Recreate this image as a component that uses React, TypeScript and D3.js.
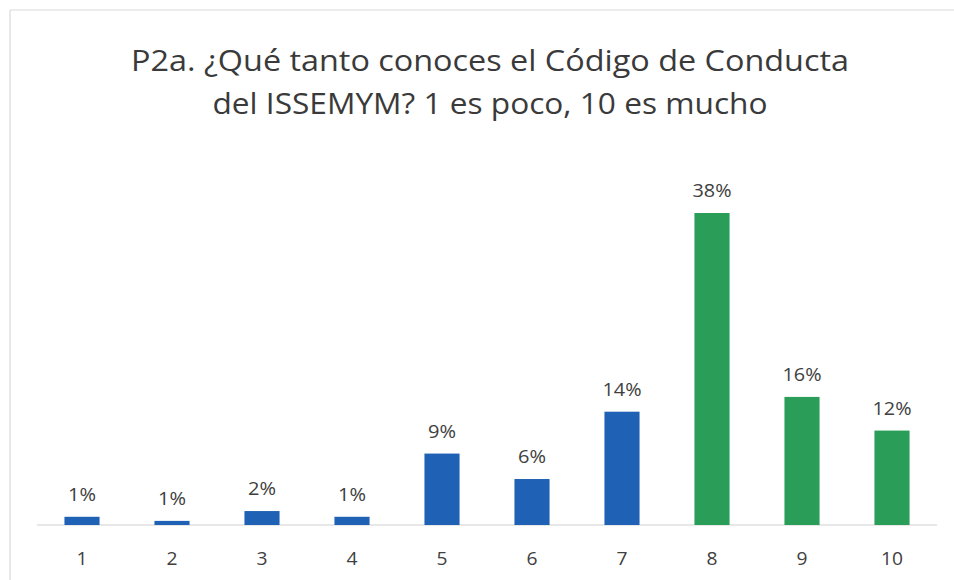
import React from "react";
import * as d3 from "d3";

const categories = ["1", "2", "3", "4", "5", "6", "7", "8", "9", "10"];
const values = [1.0, 0.5, 1.7, 1.0, 8.7, 5.6, 13.8, 38.0, 15.6, 11.5];
const labels = ["1%", "1%", "2%", "1%", "9%", "6%", "14%", "38%", "16%", "12%"];
const groups = ["low", "low", "low", "low", "low", "low", "low", "high", "high", "high"];
const titleLines = [
  "P2a. ¿Qué tanto conoces el Código de Conducta",
  "del ISSEMYM? 1 es poco, 10 es mucho",
];

const W = 954;
const H = 580;
const FONT = "'Open Sans', 'Noto Sans', sans-serif";

export default function App() {
  const x = d3.scaleBand<string>().domain(categories).range([37, 937]).paddingInner(0.61).paddingOuter(0.305);
  const y = d3.scaleLinear().domain([0, 38]).range([525, 213]);
  const color = d3.scaleOrdinal<string, string>().domain(["low", "high"]).range(["#1f62b5", "#2a9d58"]);

  return (
    <svg width={W} height={H} style={{ position: "absolute", left: 0, top: 0, background: "#fff" }}>
      <line x1={10} x2={W} y1={10} y2={10} stroke="#d9d9d9" strokeWidth={1.2} />
      <line x1={10} x2={10} y1={10} y2={H} stroke="#d9d9d9" strokeWidth={1.2} />
      {titleLines.map((t, i) => (
        <text
          key={i}
          x={490}
          y={71 + i * 43}
          textAnchor="middle"
          fontFamily={FONT}
          fontSize={30}
          fill="#3a3a3a"
          textLength={i === 0 ? 718 : 555}
          lengthAdjust="spacingAndGlyphs"
        >
          {t}
        </text>
      ))}
      <line x1={37} x2={937} y1={525} y2={525} stroke="#d0d0d0" strokeWidth={1.2} />
      {categories.map((c, i) => (
        <g key={c}>
          <rect
            x={x(c)}
            y={y(values[i])}
            width={x.bandwidth()}
            height={y(0) - y(values[i])}
            fill={color(groups[i])}
          />
          <text
            x={(x(c) ?? 0) + x.bandwidth() / 2}
            y={y(values[i]) - 16}
            textAnchor="middle"
            fontFamily={FONT}
            fontSize={18}
            fill="#404040"
            textLength={labels[i].length === 2 ? 28 : 39}
            lengthAdjust="spacingAndGlyphs"
          >
            {labels[i]}
          </text>
          <text
            x={(x(c) ?? 0) + x.bandwidth() / 2}
            y={565}
            textAnchor="middle"
            fontFamily={FONT}
            fontSize={18}
            fill="#404040"
            textLength={c.length === 1 ? 11 : 22}
            lengthAdjust="spacingAndGlyphs"
          >
            {c}
          </text>
        </g>
      ))}
    </svg>
  );
}
